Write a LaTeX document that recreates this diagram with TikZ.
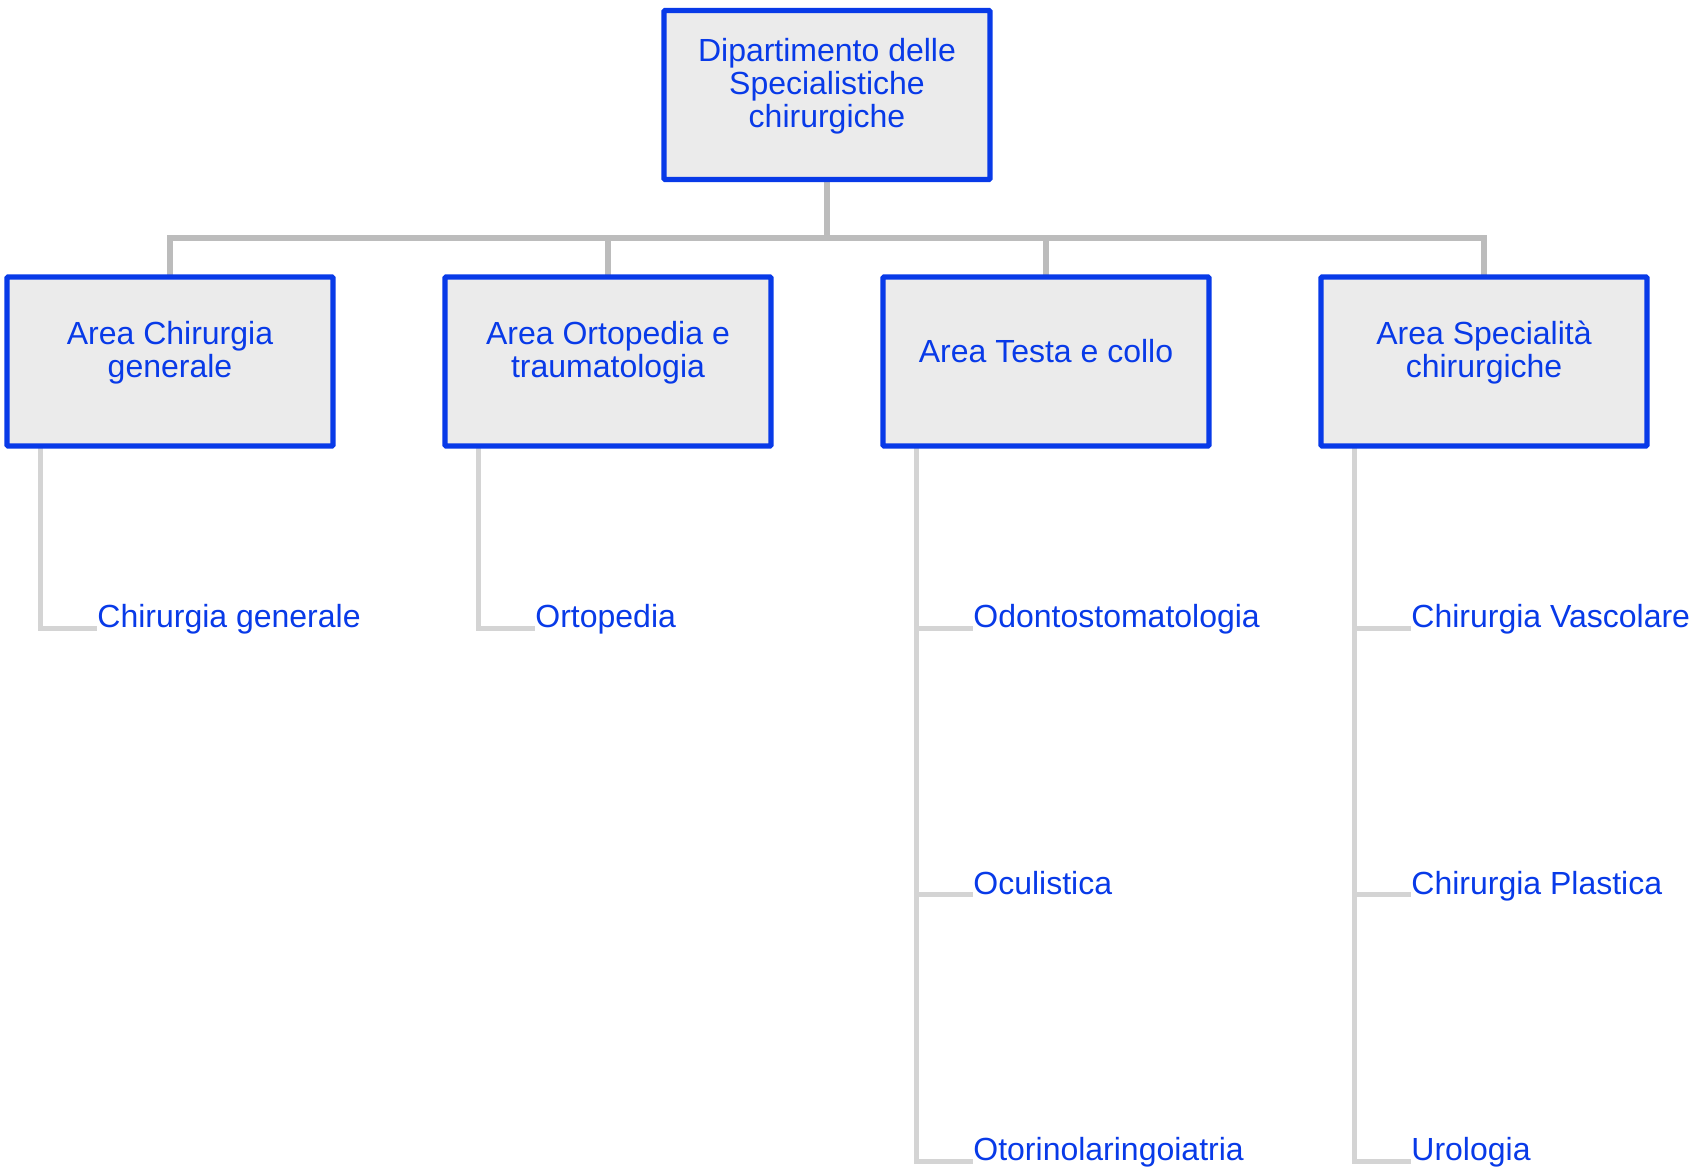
\documentclass[tikz,border=0pt]{standalone}
\usepackage{fontspec}
\setmainfont{Liberation Sans}
\usetikzlibrary{backgrounds}
\definecolor{boxblue}{RGB}{8,58,232}
\definecolor{boxfill}{RGB}{235,235,235}
\definecolor{trunkgray}{RGB}{188,188,188}
\definecolor{leafgray}{RGB}{212,212,212}

\begin{document}
\begin{tikzpicture}[x=0.5pt,y=-0.5pt,
  unitbox/.style={draw=boxblue, fill=boxfill, line width=2.7pt,
    minimum width=163pt, minimum height=84.5pt, inner sep=0pt, outer sep=0pt,
    rounded corners=0.6pt},
  boxtext/.style={text=boxblue, align=center, inner sep=0pt,
    font=\fontsize{16}{16.6}\selectfont},
  leaf/.style={text=boxblue, anchor=south west, inner xsep=0pt, inner ysep=0pt,
    text depth=0pt, font=\fontsize{16}{19}\selectfont},
  trunk/.style={draw=trunkgray, line width=3pt},
  branch/.style={draw=leafgray, line width=2.5pt}]

\useasboundingbox (0,0) rectangle (1694,1167);

% department
\node[unitbox] (dept) at (827,95) {};
\node[boxtext] (dept-txt) at ([yshift=4.5pt]dept.center) {Dipartimento delle\\Specialistiche\\chirurgiche};

% areas
\node[unitbox] (a1) at (170,361.5) {};
\node[unitbox] (a2) at (608,361.5) {};
\node[unitbox] (a3) at (1046,361.5) {};
\node[unitbox] (a4) at (1484,361.5) {};
\node[boxtext] (a1-txt) at ([yshift=4.5pt]a1.center) {Area Chirurgia\\generale};
\node[boxtext] (a2-txt) at ([yshift=4.5pt]a2.center) {Area Ortopedia e\\traumatologia};
\node[boxtext] (a3-txt) at ([yshift=5pt]a3.center) {Area Testa e collo};
\node[boxtext] (a4-txt) at ([yshift=4.5pt]a4.center) {Area Specialità\\chirurgiche};

% units
\node[leaf] (l11) at (97,628) {Chirurgia generale};
\node[leaf] (l21) at (535,628) {Ortopedia};
\node[leaf] (l31) at (973,628) {Odontostomatologia};
\node[leaf] (l32) at (973,894.5) {Oculistica};
\node[leaf] (l33) at (973,1161) {Otorinolaringoiatria};
\node[leaf] (l41) at (1411,628) {Chirurgia Vascolare};
\node[leaf] (l42) at (1411,894.5) {Chirurgia Plastica};
\node[leaf] (l43) at (1411,1161) {Urologia};

\begin{scope}[on background layer]
  \coordinate (hub) at (827,238);
  \draw[trunk] (dept.south) -- (hub);
  \draw[trunk] (hub) -| (a1.north);
  \draw[trunk] (hub) -| (a2.north);
  \draw[trunk] (hub) -| (a3.north);
  \draw[trunk] (hub) -| (a4.north);

  \draw[branch] ([xshift=-65pt]a1.south) |- (l11.south west);
  \draw[branch] ([xshift=-65pt]a2.south) |- (l21.south west);
  \draw[branch] ([xshift=-65pt]a3.south) |- (l31.south west);
  \draw[branch] ([xshift=-65pt]a3.south) |- (l32.south west);
  \draw[branch] ([xshift=-65pt]a3.south) |- (l33.south west);
  \draw[branch] ([xshift=-65pt]a4.south) |- (l41.south west);
  \draw[branch] ([xshift=-65pt]a4.south) |- (l42.south west);
  \draw[branch] ([xshift=-65pt]a4.south) |- (l43.south west);
\end{scope}
\end{tikzpicture}
\end{document}
